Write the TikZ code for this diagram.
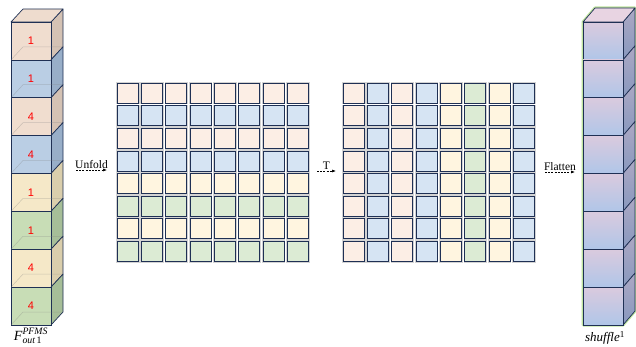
\documentclass[tikz,border=0pt]{standalone}
\usepackage{fontspec}
\usepackage{amsmath}
\setmainfont{Liberation Serif}
\newfontfamily\digitfont{Liberation Sans}
\usetikzlibrary{arrows.meta}
% grid cell colours
\definecolor{cP}{RGB}{252,238,229}
\definecolor{cB}{RGB}{214,228,243}
\definecolor{cY}{RGB}{255,245,224}
\definecolor{cG}{RGB}{220,235,212}
% left stack colours
\definecolor{sP}{RGB}{240,221,207}
\definecolor{sB}{RGB}{186,206,228}
\definecolor{sY}{RGB}{245,232,200}
\definecolor{sG}{RGB}{200,221,182}
\definecolor{sPside}{RGB}{212,194,180}
\definecolor{sBside}{RGB}{152,174,200}
\definecolor{sYside}{RGB}{218,206,172}
\definecolor{sGside}{RGB}{166,190,152}
\definecolor{sPtop}{RGB}{238,220,206}
% right stack colours
\definecolor{rTop}{RGB}{218,202,222}
\definecolor{rBot}{RGB}{176,198,232}
\definecolor{rSideTop}{RGB}{172,168,196}
\definecolor{rSideBot}{RGB}{136,152,190}
\definecolor{rTopFace}{RGB}{232,212,226}
\definecolor{glowgreen}{RGB}{176,222,136}
\definecolor{navy}{RGB}{31,48,84}
\begin{document}
\begin{tikzpicture}[x=1pt,y=-1pt,
  cell/.style={draw=navy, line width=1.1pt, minimum width=21pt, minimum height=20pt, inner sep=0pt,
    preaction={draw=gray, line width=2.4pt, opacity=0.35}},
  cubefront/.style={draw=navy, line width=0.7pt, minimum width=40pt, minimum height=37.875pt, inner sep=0pt,
    text=red, font=\digitfont\fontsize{11}{11}\selectfont},
  rfront/.style={draw=navy, line width=0.7pt, minimum width=40pt, minimum height=37.875pt, inner sep=0pt,
    top color=rTop, bottom color=rBot},
  edge/.style={draw=navy, line width=0.7pt, line join=round},
  faint/.style={draw=gray, line width=0.5pt, opacity=0.35},
  dasharrow/.style={dashed, dash pattern=on 2pt off 1.2pt, line width=0.6pt, -{Latex[length=4pt,width=3pt]}},
  lbl/.style={font=\fontsize{11.5}{11.5}\selectfont, inner sep=1pt}
]
\useasboundingbox (0,0) rectangle (636,347);

% ---------------- left stack ----------------
\foreach \i/\cc/\n in {0/P/1,1/B/1,2/P/4,3/B/4,4/Y/1,5/G/1,6/Y/4,7/G/4} {
  \pgfmathsetmacro\t{22+37.875*\i}
  \pgfmathsetmacro\b{22+37.875*(\i+1)}
  \pgfmathsetmacro\m{22+37.875*(\i+0.5)}
  \path[edge, fill=s\cc side] (51,\t) -- (63,\t-13) -- (63,\b-13) -- (51,\b) -- cycle;
  \node[cubefront, fill=s\cc] (L\i) at (31,\m) {\n};
  \draw[faint] (11,\b) -- (23,\b-13) -- (63,\b-13);
}
\path[edge, fill=sPtop] (11,22) -- (23,9) -- (63,9) -- (51,22) -- cycle;
\node[font=\fontsize{14}{15}\selectfont] (lblF) at (31,336)
  {$\text{\itshape F}^{\text{\itshape PFMS}}_{\text{\itshape out}\,\text{1}}$};

% ---------------- right stack ----------------
\draw[glowgreen, line width=3pt, line join=round, opacity=0.8]
  (583,22) -- (583,325) -- (623,325) -- (635,311) -- (635,8) -- (595,8) -- cycle;
\foreach \i in {0,...,7} {
  \pgfmathsetmacro\t{22+37.875*\i}
  \pgfmathsetmacro\b{22+37.875*(\i+1)}
  \pgfmathsetmacro\m{22+37.875*(\i+0.5)}
  \shade[top color=rSideTop, bottom color=rSideBot] (623,\t) -- (635,\t-14) -- (635,\b-14) -- (623,\b) -- cycle;
  \draw[edge] (623,\t) -- (635,\t-14) -- (635,\b-14) -- (623,\b) -- cycle;
  \node[rfront] (R\i) at (603,\m) {};
}
\path[edge, fill=rTopFace] (583,22) -- (595,8) -- (635,8) -- (623,22) -- cycle;
\node[font=\fontsize{13}{14}\selectfont] (lblS) at (605,338) {\textit{shuffle}\textsuperscript{1}};

% ---------------- grid 1 (rows coloured) ----------------
\foreach \r/\col in {0/P,1/B,2/P,3/B,4/Y,5/G,6/Y,7/G} {
  \foreach \cc in {0,...,7} {
    \node[cell, fill=c\col] (A-\r-\cc) at ({127.8+24.3*\cc},{93.3+22.6*\r}) {};
  }
}
% ---------------- grid 2 (columns coloured) ----------------
\foreach \cc/\col in {0/P,1/B,2/P,3/B,4/Y,5/G,6/Y,7/B} {
  \foreach \r in {0,...,7} {
    \node[cell, fill=c\col] (B-\r-\cc) at ({353.8+24.3*\cc},{93.3+22.6*\r}) {};
  }
}

% ---------------- arrows ----------------
\coordinate (u1) at (76,170);
\coordinate (u2) at (107,170);
\draw[dasharrow] (u1) -- node[lbl, above] (ulbl) {Unfold} (u2);
\coordinate (t1) at (317,171);
\coordinate (t2) at (336,171);
\draw[dasharrow] (t1) -- node[lbl, above] (tlbl) {T} (t2);
\coordinate (f1) at (545,172);
\coordinate (f2) at (575,172);
\draw[dasharrow] (f1) -- node[lbl, above] (flbl) {Flatten} (f2);
\end{tikzpicture}
\end{document}
